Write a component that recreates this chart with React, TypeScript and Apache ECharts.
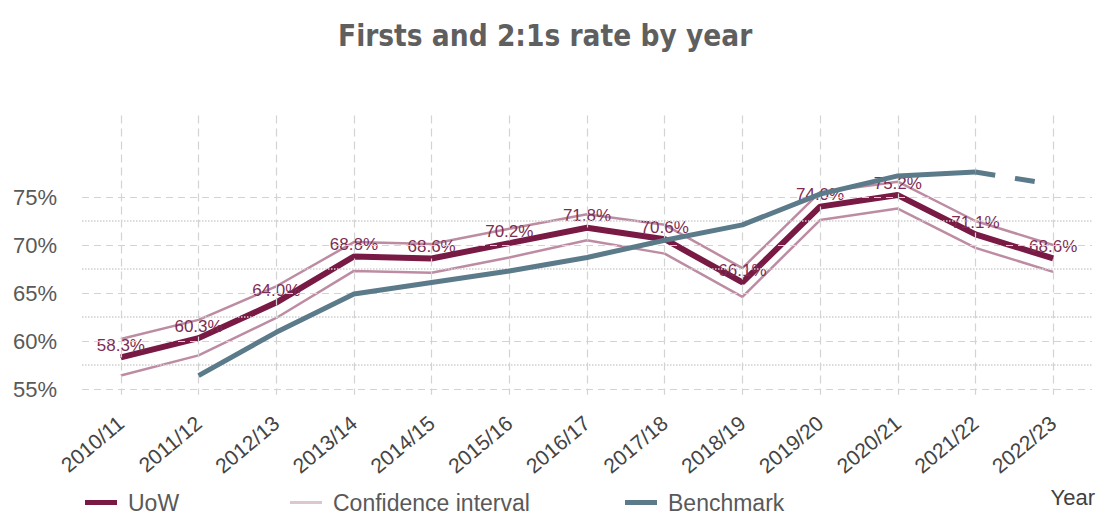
import React, { useEffect, useRef } from "react";
import * as echarts from "echarts";

const categories = [
  "2010/11", "2011/12", "2012/13", "2013/14", "2014/15", "2015/16", "2016/17",
  "2017/18", "2018/19", "2019/20", "2020/21", "2021/22", "2022/23",
];
const uow = [58.3, 60.3, 64.0, 68.8, 68.6, 70.2, 71.8, 70.6, 66.1, 74.0, 75.2, 71.1, 68.6];
const ciUpper = [60.2, 62.2, 65.7, 70.3, 70.1, 71.7, 73.2, 72.1, 67.6, 75.5, 76.6, 72.5, 70.0];
const ciLower = [56.4, 58.5, 62.4, 67.3, 67.1, 68.7, 70.5, 69.1, 64.6, 72.6, 73.8, 69.7, 67.2];
const benchmark = [null, 56.4, 60.9, 64.9, 66.1, 67.3, 68.7, 70.5, 72.1, 75.3, 77.2, 77.6, null];
const benchmarkProjected = [null, null, null, null, null, null, null, null, null, null, null, 77.6, 76.3];
const yMajorTicks = [55, 60, 65, 70, 75];
const yMinorTicks = [57.5, 62.5, 67.5, 72.5];
const verticalGridTop = 83.5;
const verticalGridBottom = 54.4;

const FONT = "'Liberation Sans', Arial, sans-serif";
const UOW_COLOR = "#781a44";
const CI_COLOR = "#bd8ca2";
const BENCH_COLOR = "#5b7b8a";

export default function App() {
  const ref = useRef<HTMLDivElement>(null);
  useEffect(() => {
    if (!ref.current) return;
    const chart = echarts.init(ref.current, null, { renderer: "svg" });
    const majorStyle = { type: [7, 5], color: "#d3d3d3", width: 1.2 };
    const minorStyle = { type: [1.5, 1.5], color: "#d0d0d0", width: 1.5 };
    const vertStyle = { type: [8, 5], color: "#d3d3d3", width: 1.2 };
    const legendBase = {
      top: 491,
      padding: 0,
      itemWidth: 32,
      selectedMode: false,
      textStyle: { fontSize: 23, color: "#595959", fontFamily: FONT, padding: [0, 0, 0, 6] },
    };
    chart.setOption({
      animation: false,
      backgroundColor: "#ffffff",
      textStyle: { fontFamily: FONT },
      title: {
        text: "Firsts and 2:1s rate by year",
        left: 338,
        top: 21,
        padding: 0,
        textStyle: {
          fontFamily: "'DejaVu Sans Condensed', 'DejaVu Sans', sans-serif",
          fontWeight: "bold",
          fontSize: 29.5,
          color: "#5f5f5f",
        },
      },
      grid: { left: 82, right: 10, top: 101, bottom: 101 },
      xAxis: {
        type: "category",
        data: categories,
        boundaryGap: true,
        axisLine: { show: false },
        axisTick: { show: false },
        splitLine: { show: false },
        axisLabel: { rotate: 40, fontSize: 21, color: "#444444", margin: 7, interval: 0, fontFamily: FONT },
      },
      yAxis: {
        type: "value",
        min: 52.5,
        max: 85,
        interval: 2.5,
        splitLine: { show: false },
        axisLine: { show: false },
        axisTick: { show: false },
        axisLabel: {
          formatter: (v: number) => (yMajorTicks.includes(v) ? v + "%" : ""),
          fontSize: 22,
          color: "#595959",
          margin: 25,
          fontFamily: FONT,
        },
      },
      legend: [
        { ...legendBase, left: 85, itemHeight: 5, data: [{ name: "UoW", icon: "rect", itemStyle: { color: UOW_COLOR } }] },
        { ...legendBase, left: 290, itemHeight: 3, data: [{ name: "Confidence interval", icon: "rect", itemStyle: { color: "#dcc6cf" } }] },
        { ...legendBase, left: 625, itemHeight: 5, data: [{ name: "Benchmark", icon: "rect", itemStyle: { color: BENCH_COLOR } }] },
      ],
      graphic: [
        { type: "text", right: 7, top: 486, style: { text: "Year", fontSize: 22, fill: "#404040", fontFamily: FONT } },
      ],
      series: [
        {
          name: "grid",
          type: "line",
          data: categories.map(() => null),
          symbol: "none",
          silent: true,
          z: 1,
          markLine: {
            silent: true,
            symbol: ["none", "none"],
            label: { show: false },
            emphasis: { disabled: true },
            data: [
              ...yMajorTicks.map((v) => ({ yAxis: v, lineStyle: majorStyle })),
              ...yMinorTicks.map((v) => ({ yAxis: v, lineStyle: minorStyle })),
              ...categories.map((c) => [
                { coord: [c, verticalGridTop], lineStyle: vertStyle },
                { coord: [c, verticalGridBottom], lineStyle: vertStyle },
              ]),
            ],
          },
        },
        {
          name: "Confidence interval",
          type: "line",
          data: ciLower,
          symbol: "none",
          lineStyle: { color: CI_COLOR, width: 2.5 },
          itemStyle: { color: CI_COLOR },
          z: 3,
        },
        {
          name: "Confidence interval",
          type: "line",
          data: ciUpper,
          symbol: "none",
          lineStyle: { color: CI_COLOR, width: 2.5 },
          itemStyle: { color: CI_COLOR },
          z: 3,
        },
        {
          name: "UoW",
          type: "line",
          data: uow,
          symbol: "circle",
          symbolSize: 1,
          showSymbol: true,
          lineStyle: { color: UOW_COLOR, width: 6 },
          itemStyle: { color: UOW_COLOR },
          label: {
            show: true,
            position: "top",
            distance: 3,
            formatter: (p: any) => Number(p.value).toFixed(1) + "%",
            fontSize: 17,
            color: "#7d2c52",
            fontFamily: FONT,
          },
          z: 4,
        },
        {
          name: "Benchmark",
          type: "line",
          data: benchmark,
          symbol: "none",
          lineStyle: { color: BENCH_COLOR, width: 5 },
          itemStyle: { color: BENCH_COLOR },
          z: 5,
        },
        {
          name: "Benchmark",
          type: "line",
          data: benchmarkProjected,
          symbol: "none",
          lineStyle: { color: BENCH_COLOR, width: 5, type: [20, 20], cap: "butt" },
          itemStyle: { color: BENCH_COLOR },
          z: 5,
        },
      ],
    });
    return () => chart.dispose();
  }, []);
  return (
    <div
      ref={ref}
      style={{ position: "fixed", left: 0, top: 0, width: 1102, height: 514, background: "#fff" }}
    />
  );
}
